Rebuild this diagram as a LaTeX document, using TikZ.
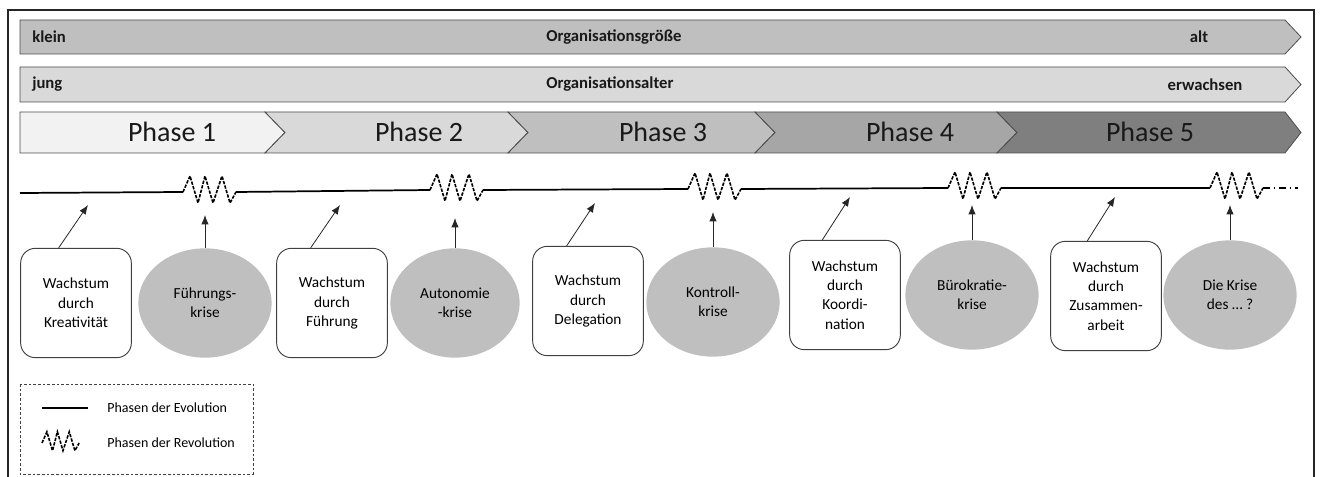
\documentclass[tikz,border=0pt]{standalone}
\usepackage{fontspec}
\setmainfont{Carlito}
\usetikzlibrary{shapes.geometric,arrows.meta}
\definecolor{phA}{HTML}{F2F2F2}
\definecolor{phB}{HTML}{D9D9D9}
\definecolor{phC}{HTML}{BFBFBF}
\definecolor{phD}{HTML}{A6A6A6}
\definecolor{phE}{HTML}{7F7F7F}
\definecolor{krisegrau}{HTML}{BFBFBF}
\tikzset{
  barbox/.style={draw=black!70, line width=0.6pt},
  lbl/.style={inner sep=0pt, font=\bfseries\fontsize{12.5}{14}\selectfont, text=black!90},
  phaselbl/.style={inner sep=0pt, font=\fontsize{21}{24}\selectfont, text=black!90},
  wachstum/.style={draw=black!75, line width=0.7pt, rounded corners=11pt, minimum width=83pt, minimum height=82pt, inner sep=0pt, align=center, font=\fontsize{11.5}{14.5}\selectfont},
  krise/.style={ellipse, fill=krisegrau, minimum width=100pt, minimum height=82pt, inner sep=0pt, align=center, font=\fontsize{11.5}{14.5}\selectfont},
  evo/.style={line width=1.3pt},
  revline/.style={line width=1.2pt, dash pattern=on 2.5pt off 1pt},
  arr/.style={-{Latex[length=7pt,width=5.5pt]}, line width=0.6pt, draw=black!85},
  legtxt/.style={anchor=west, inner sep=0pt, font=\fontsize{10.5}{12}\selectfont},
  revo/.pic={\draw[revline] (0,0) -- (7,-16) -- (15,11) -- (22,-16) -- (30,11) -- (39,-16) -- (47,11) -- (53,0);}
}
\begin{document}
\begin{tikzpicture}[x=0.75pt,y=-0.75pt]
\useasboundingbox (0,0) rectangle (1322,477);
% Rahmen
\draw[black!85, line width=0.8pt] (8,480) -- (8,10) -- (1314,10) -- (1314,480);

% Groesse und Alter
\draw[barbox, fill=phC] (20,20) -- (1285,20) -- (1301,37) -- (1285,54) -- (20,54) -- cycle;
\draw[barbox, fill=phB] (20,67) -- (1285,67) -- (1301,84.5) -- (1285,102) -- (20,102) -- cycle;
\node[lbl, anchor=west] (klein) at (32,37) {klein};
\node[lbl, anchor=west] (groesse) at (546,37) {Organisationsgröße};
\node[lbl] (alt) at (1199,37) {alt};
\node[lbl, anchor=west] (jung) at (32,84.5) {jung};
\node[lbl, anchor=west] (alter) at (546,84.5) {Organisationsalter};
\node[lbl] (erwachsen) at (1205,84.5) {erwachsen};

% Phasen
\foreach \xa/\xb/\nd/\tp/\col/\cx/\num in {20/265/0/20/phA/172/1, 265/508/20/20/phB/419/2, 508/755/20/20/phC/663/3, 755/997/20/20/phD/910/4, 997/1285/20/16/phE/1150/5}{
  \draw[barbox, fill=\col] (\xa,112) -- (\xb,112) -- (\xb+\tp,132.5) -- (\xb,153) -- (\xa,153) -- (\xa+\nd,132.5) -- cycle;
  \node[phaselbl] (ph\num) at (\cx,132) {Phase \num};
}

% Evolution und Revolution
\draw[evo] (20,193) -- (183,192);
\pic at (183,192) {revo};
\draw[evo] (236,192) -- (430,190);
\pic at (430,190) {revo};
\draw[evo] (483,190) -- (688,189);
\pic at (688,189) {revo};
\draw[evo] (741,189) -- (948,188);
\pic at (948,188) {revo};
\draw[evo] (1001,188) -- (1210,188);
\pic at (1210,188) {revo};
\draw[line width=1.1pt, dash pattern=on 5pt off 3pt on 1pt off 3pt] (1263,188) -- (1298,188);

\coordinate (t1) at (88,205);
\coordinate (t2) at (340,205);
\coordinate (t3) at (595,203);
\coordinate (t4) at (850,197);
\coordinate (t5) at (1115,197);
\coordinate (k1) at (205,215);
\coordinate (k2) at (455,218);
\coordinate (k3) at (713,212);
\coordinate (k4) at (972,205);
\coordinate (k5) at (1230,205);

% Wachstum und Krisen
\node[wachstum] (g1) at (76,303) {Wachstum\\durch\\Kreativität};
\node[krise] (e1) at (205,303) {Führungs-\\krise};
\node[wachstum] (g2) at (332,303) {Wachstum\\durch\\Führung};
\node[krise, minimum width=97pt] (e2) at (455,303) {Autonomie\\-krise};
\node[wachstum] (g3) at (588,301) {Wachstum\\durch\\Delegation};
\node[krise] (e3) at (713,302) {Kontroll-\\krise};
\node[wachstum] (g4) at (845,295) {Wachstum\\durch\\Koordi-\\nation};
\node[krise] (e4) at (972,295) {Bürokratie-\\krise};
\node[wachstum] (g5) at (1106,296) {Wachstum\\durch\\Zusammen-\\arbeit};
\node[krise] (e5) at (1230,295) {Die Krise\\des … ?};

\draw[arr] ([xshift=-13pt]g1.north) -- (t1);
\draw[arr] ([xshift=-16pt]g2.north) -- (t2);
\draw[arr] ([xshift=-16pt]g3.north) -- (t3);
\draw[arr] ([xshift=-17pt]g4.north) -- (t4);
\draw[arr] ([xshift=-14pt]g5.north) -- (t5);
\draw[arr] (e1.north) -- (k1);
\draw[arr] (e2.north) -- (k2);
\draw[arr] (e3.north) -- (k3);
\draw[arr] (e4.north) -- (k4);
\draw[arr] (e5.north) -- (k5);

% Legende
\draw[black!75, line width=0.6pt, dash pattern=on 2pt off 1.5pt] (20,384) rectangle (253,474);
\draw[evo] (42,408) -- (88,408);
\pic[scale=0.7] at (42,443) {revo};
\node[legtxt] (levo) at (107,408) {Phasen der Evolution};
\node[legtxt] (lrevo) at (107,443) {Phasen der Revolution};
\end{tikzpicture}
\end{document}
